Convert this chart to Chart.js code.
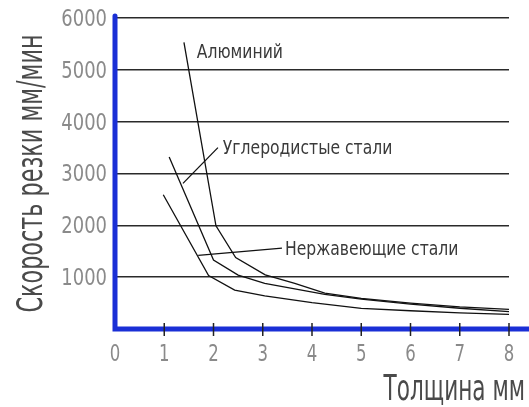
<!DOCTYPE html>
<html>
<head>
<meta charset="utf-8">
<script src="https://cdn.jsdelivr.net/npm/chart.js@4/dist/chart.umd.min.js"></script>
<style>
  html, body { margin: 0; padding: 0; background: #fff; }
  #wrap { width: 529px; height: 407px; }
</style>
</head>
<body>
<div id="wrap"><canvas id="cutChart" width="529" height="407"></canvas></div>
<script>
// thickness (mm) and cutting speed (mm/min)
const aluminiumX = [1.4, 2.05, 2.45, 3.05, 3.65, 4.26, 5, 6, 7, 8];
const aluminiumY = [5530, 1990, 1380, 1045, 880, 690, 590, 500, 425, 380];
const carbonX = [1.1, 2.0, 2.5, 3.04, 4.26, 5, 6, 7, 8];
const carbonY = [3320, 1330, 1040, 880, 670, 575, 480, 400, 335];
const stainlessX = [0.98, 1.9, 2.43, 3.04, 4, 5, 6, 7, 8];
const stainlessY = [2590, 1030, 750, 640, 510, 398, 352, 313, 283];

const xTicks = [0, 1, 2, 3, 4, 5, 6, 7, 8];
const yTicks = [1000, 2000, 3000, 4000, 5000, 6000];

const xTitle = 'Толщина мм';
const yTitle = 'Скорость резки мм/мин';

// curve captions, placed in data units
const notes = [
    { text: 'Алюминий', at: [1.66, 5330] },
    { text: 'Углеродистые стали', at: [2.19, 3480], from: [1.38, 2810], to: [2.09, 3500] },
    { text: 'Нержавеющие стали', at: [3.45, 1520], from: [1.69, 1420], to: [3.39, 1560] }
];

const FONT = '"DejaVu Sans", sans-serif';
const BLUE = '#1a2fd6';

function toPoints(xs, ys) {
    return xs.map((x, i) => ({ x: x, y: ys[i] }));
}

function series(label, xs, ys) {
    return {
        label: label,
        data: toPoints(xs, ys),
        borderColor: '#111',
        borderWidth: 1.3,
        pointRadius: 0,
        fill: false,
        tension: 0
    };
}

// the drawing uses a narrow drafting lettering, so squeeze the text sideways
function narrowText(ctx, text, x, y, sx, align) {
    ctx.save();
    ctx.translate(x, y);
    ctx.scale(sx, 1);
    ctx.textAlign = align;
    ctx.fillText(text, 0, 0);
    ctx.restore();
}

const decor = {
    id: 'decor',
    afterDatasetsDraw(chart) {
        const ctx = chart.ctx;
        const xs = chart.scales.x, ys = chart.scales.y;
        const area = chart.chartArea;
        ctx.save();

        // blue axes
        ctx.strokeStyle = BLUE;
        ctx.lineWidth = 5;
        ctx.lineCap = 'round';
        ctx.beginPath();
        ctx.moveTo(area.left, area.top - 2);
        ctx.lineTo(area.left, area.bottom);
        ctx.lineTo(chart.width + 5, area.bottom);
        ctx.stroke();

        // tick marks across the x axis
        ctx.strokeStyle = '#222';
        ctx.lineWidth = 1.5;
        ctx.lineCap = 'butt';
        xs.ticks.forEach((t, i) => {
            if (t.value === 0) return;
            const px = xs.getPixelForTick(i);
            ctx.beginPath();
            ctx.moveTo(px, area.bottom - 6);
            ctx.lineTo(px, area.bottom + 7);
            ctx.stroke();
        });

        // tick labels
        ctx.fillStyle = '#8a8a8a';
        ctx.font = '23px ' + FONT;
        ctx.textBaseline = 'middle';
        xTicks.forEach(v => narrowText(ctx, String(v), xs.getPixelForValue(v), area.bottom + 26, 0.72, 'center'));
        yTicks.forEach(v => narrowText(ctx, String(v), area.left - 8, ys.getPixelForValue(v) + 2, 0.78, 'right'));

        // captions with leader lines
        ctx.font = '20px ' + FONT;
        notes.forEach(n => {
            if (n.from) {
                ctx.strokeStyle = '#111';
                ctx.lineWidth = 1.3;
                ctx.beginPath();
                ctx.moveTo(xs.getPixelForValue(n.from[0]), ys.getPixelForValue(n.from[1]));
                ctx.lineTo(xs.getPixelForValue(n.to[0]), ys.getPixelForValue(n.to[1]));
                ctx.stroke();
            }
            ctx.fillStyle = '#3a3a3a';
            narrowText(ctx, n.text, xs.getPixelForValue(n.at[0]), ys.getPixelForValue(n.at[1]), 0.78, 'left');
        });

        // axis titles
        ctx.font = '36px ' + FONT;
        ctx.fillStyle = '#4a4a4a';
        ctx.textBaseline = 'alphabetic';
        narrowText(ctx, xTitle, chart.width - 4, 400, 0.6, 'right');

        ctx.save();
        ctx.translate(42, (area.top + area.bottom) / 2);
        ctx.rotate(-Math.PI / 2);
        narrowText(ctx, yTitle, 0, 0, 0.62, 'center');
        ctx.restore();

        ctx.restore();
    }
};

new Chart(document.getElementById('cutChart'), {
    type: 'line',
    data: {
        datasets: [
            series('Алюминий', aluminiumX, aluminiumY),
            series('Углеродистые стали', carbonX, carbonY),
            series('Нержавеющие стали', stainlessX, stainlessY)
        ]
    },
    options: {
        responsive: false,
        animation: false,
        devicePixelRatio: 1,
        layout: { padding: { top: 18, right: 20, left: 0, bottom: 0 } },
        plugins: {
            legend: { display: false },
            tooltip: { enabled: false }
        },
        scales: {
            x: {
                type: 'linear',
                min: 0,
                max: 8,
                afterBuildTicks: scale => { scale.ticks = xTicks.map(v => ({ value: v })); },
                afterFit: scale => { scale.height = 78; },
                grid: { display: false, drawTicks: false },
                border: { display: false },
                ticks: { display: false }
            },
            y: {
                min: 0,
                max: 6000,
                afterBuildTicks: scale => { scale.ticks = [0].concat(yTicks).map(v => ({ value: v })); },
                afterFit: scale => { scale.width = 115; },
                grid: {
                    color: ctx => ctx.tick && ctx.tick.value === 0 ? 'rgba(0,0,0,0)' : '#2a2a2a',
                    lineWidth: 1.6,
                    drawTicks: false
                },
                border: { display: false },
                ticks: { display: false }
            }
        }
    },
    plugins: [decor]
});
</script>
</body>
</html>
